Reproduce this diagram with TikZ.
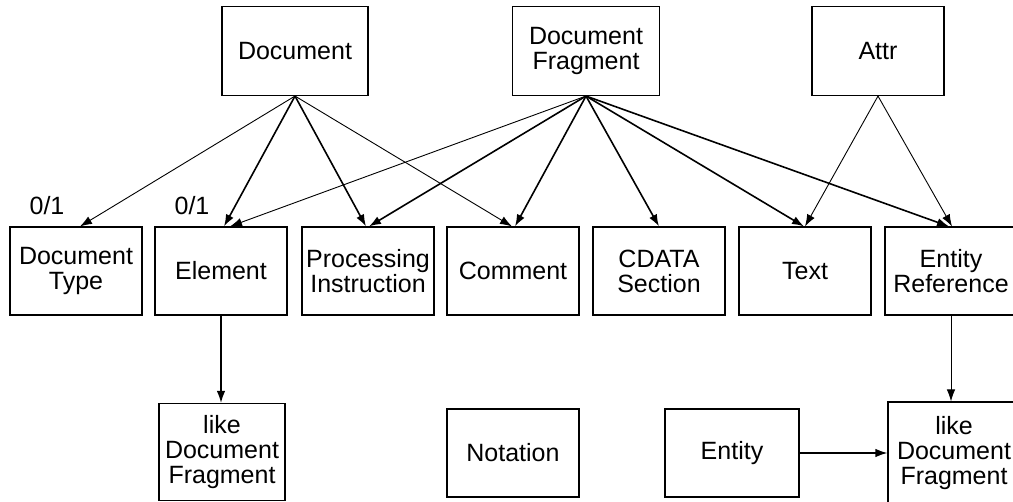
\documentclass[tikz,border=0pt]{standalone}
\usepackage{fontspec}
\setmainfont{Liberation Sans}
\usetikzlibrary{arrows.meta}

\begin{document}
\begin{tikzpicture}[x=1pt,y=-1pt,
    box/.style={draw,line width=1.1pt,minimum width=132pt,minimum height=88pt,
        inner sep=1pt,align=center,font=\fontsize{25}{25}\selectfont},
    link/.style={-{Latex[length=12pt,width=8.5pt]},line width=0.9pt},
    heavy/.style={link,line width=1.6pt}]
\useasboundingbox (0,0) rectangle (1013,502);
\clip (0,0) rectangle (1013,502);

\node[box,minimum width=146pt,minimum height=89pt] (doc) at (295,51) {Document};
\node[box,minimum width=147pt,minimum height=89pt] (frag) at (586,51) {Document\\Fragment};
\node[box,minimum height=89pt] (attr) at (878,51) {Attr};

\node[box] (doctype) at (76,271) {Document\\Type};
\node[box] (elem) at (221,271) {Element};
\node[box] (pi) at (368,271) {Processing\\Instruction};
\node[box] (comment) at (513,271) {Comment};
\node[box] (cdata) at (659,271) {CDATA\\Section};
\node[box] (text) at (805,271) {Text};
\node[box] (entref) at (951,271) {Entity\\Reference};

\node[box,minimum width=126pt,minimum height=97pt] (likeel) at (222,452) {like\\Document\\Fragment};
\node[box] (notation) at (513,453) {Notation};
\node[box,minimum width=134pt] (entity) at (732,453) {Entity};
\node[box,minimum height=102pt] (likeent) at (954,453) {like\\Document\\Fragment};

\node[font=\fontsize{25}{25}\selectfont] (cntdt) at (47,206) {0/1};
\node[font=\fontsize{25}{25}\selectfont] (cntel) at (192,206) {0/1};

% Document
\draw[link] (doc.south) -- ([xshift=4pt]doctype.north);
\draw[heavy] (doc.south) -- ([xshift=3pt]elem.north);
\draw[heavy] (doc.south) -- ([xshift=-2pt]pi.north);
\draw[link] (doc.south) -- ([xshift=-1pt]comment.north);

% Document Fragment
\draw[link] (frag.south) -- ([xshift=9pt]elem.north);
\draw[heavy] (frag.south) -- ([xshift=1pt]pi.north);
\draw[heavy] (frag.south) -- ([xshift=2pt]comment.north);
\draw[heavy] (frag.south) -- (cdata.north);
\draw[heavy] (frag.south) -- ([xshift=-1pt]text.north);
\draw[heavy] (frag.south) -- ([xshift=-2pt]entref.north);

% Attr
\draw[link] (attr.south) -- (text.north);
\draw[link] (attr.south) -- ([xshift=1pt]entref.north);

\draw[heavy] (elem.south) -- (elem.south |- likeel.north);
\draw[link] (entref.south) -- (entref.south |- likeent.north);
\draw[heavy] (entity.east) -- (likeent.west |- entity.east);
\end{tikzpicture}
\end{document}
